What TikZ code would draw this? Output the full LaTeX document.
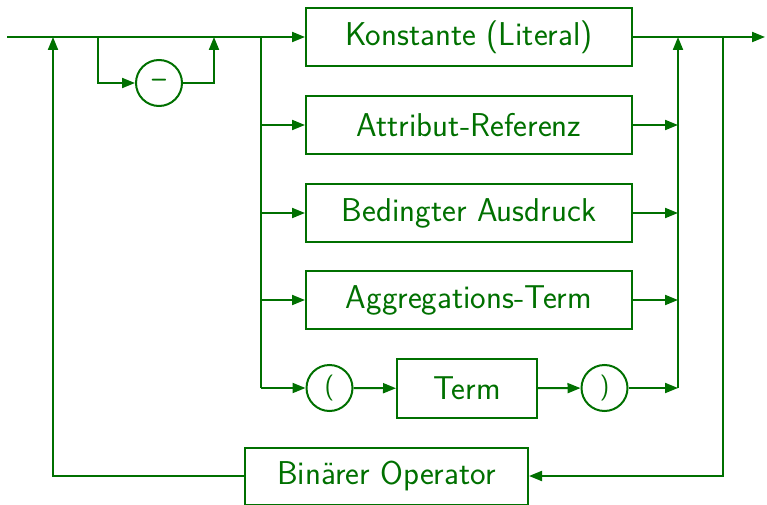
\documentclass[tikz,border=0pt]{standalone}
\usetikzlibrary{arrows.meta}
\definecolor{dg}{RGB}{0,112,0}
\begin{document}
\begin{tikzpicture}[x=1pt,y=-1pt,
  every node/.style={font=\fontsize{33}{38}\sffamily, text=dg},
  box/.style={draw=dg, line width=2pt, minimum width=326pt, minimum height=58pt, inner sep=0pt},
  term/.style={draw=dg, circle, line width=2pt, minimum size=46pt, inner sep=0pt, font=\fontsize{26}{30}\sffamily},
  conn/.style={draw=dg, line width=2pt},
  arr/.style={conn, -{Triangle[length=13pt,width=10pt]}}
]
\useasboundingbox (0,0) rectangle (767,505);
\node[box] (b1) at (469,37) {Konstante (Literal)};
\node[box] (b2) at (469,125) {Attribut-Referenz};
\node[box] (b3) at (469,213) {Bedingter Ausdruck};
\node[box] (b4) at (469,300) {Aggregations-Term};
\node[term] (lp) at (329.5,388) {(};
\node[box, minimum width=140pt, minimum height=59pt] (tm) at (467,388.5) {Term};
\node[term] (rp) at (604.5,388) {)};
\node[box, minimum width=283pt, minimum height=57pt] (bo) at (386.5,476) {Bin\"arer Operator};
\node[term, font=\fontsize{26}{30}\sffamily\bfseries] (mi) at (159,83) {--};
\coordinate (s) at (7,37);
\coordinate (e) at (765,37);
\coordinate (la) at (53,37);
\coordinate (ma) at (98,37);
\coordinate (mb) at (214,37);
\coordinate (sp) at (261,37);
\coordinate (sq) at (261,388);
\coordinate (ca) at (678,37);
\coordinate (cb) at (678,388);
\coordinate (ra) at (723,37);
% main line
\draw[arr] (s) -- (b1.west);
\draw[arr] (b1.east) -- (e);
% minus branch
\draw[arr] (ma) |- (mi.west);
\draw[arr] (mi.east) -| (mb);
% split
\draw[conn] (sp) -- (sq);
\draw[arr] (sp |- b2.west) -- (b2.west);
\draw[arr] (sp |- b3.west) -- (b3.west);
\draw[arr] (sp |- b4.west) -- (b4.west);
\draw[arr] (sq) -- (lp);
\draw[arr] (lp) -- (tm);
\draw[arr] (tm) -- (rp);
% collect
\draw[arr] (b2.east) -- (ca |- b2.east);
\draw[arr] (b3.east) -- (ca |- b3.east);
\draw[arr] (b4.east) -- (ca |- b4.east);
\draw[arr] (rp) -- (cb);
\draw[arr] (cb) -- (ca);
% loop back
\draw[arr] (ra) |- (bo.east);
\draw[arr] (bo.west) -| (la);
\end{tikzpicture}
\end{document}
